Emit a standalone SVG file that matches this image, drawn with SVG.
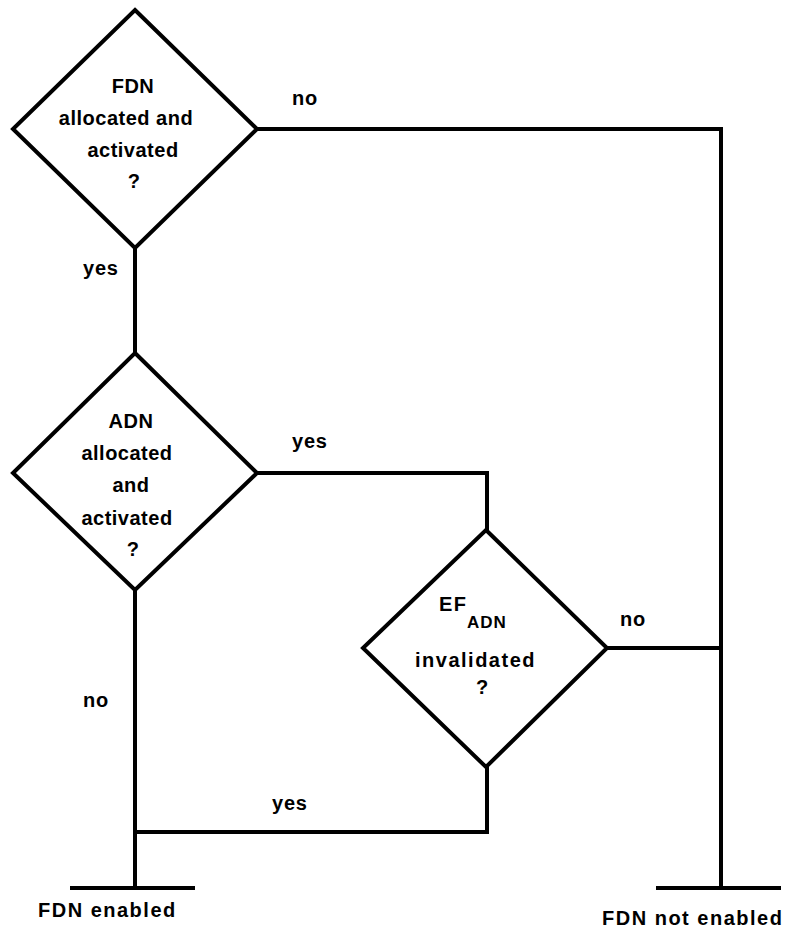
<svg xmlns="http://www.w3.org/2000/svg" width="789" height="933" viewBox="0 0 789 933">
<style>
.shape{fill:#fff;stroke:#000;stroke-width:4;stroke-linejoin:miter}
.ln{fill:none;stroke:#000;stroke-width:4;stroke-linecap:square;stroke-linejoin:miter}
text{font-family:"Liberation Sans",Arial,sans-serif;font-weight:bold;font-size:20px;fill:#000}
.c{text-anchor:middle}
.t1{letter-spacing:0.5px}
.t2{letter-spacing:0.8px}
.t3{letter-spacing:1.5px}
.sub{font-size:17px;letter-spacing:1px}
</style>
<rect width="789" height="933" fill="#fff"/>
<g id="connectors">
<polyline class="ln" points="257,129 721,129 721,886"/>
<line class="ln" x1="135" y1="248" x2="135" y2="353"/>
<polyline class="ln" points="257,473 487,473 487,530"/>
<line class="ln" x1="607" y1="648" x2="721" y2="648"/>
<line class="ln" x1="135" y1="590" x2="135" y2="886"/>
<polyline class="ln" points="487,767 487,832 135,832"/>
<text class="t2" x="292" y="105">no</text>
<text class="t2" x="83" y="275">yes</text>
<text class="t2" x="292" y="448">yes</text>
<text class="t2" x="620" y="626">no</text>
<text class="t2" x="83" y="707">no</text>
<text class="t2" x="272" y="810">yes</text>
</g>
<g id="d1">
<polygon class="shape" points="135,10 257,129 135,248 13,129"/>
<text class="c t1" x="133" y="93">FDN</text>
<text class="c t1" x="126" y="125">allocated and</text>
<text class="c t1" x="133" y="157">activated</text>
<text class="c t1" x="134" y="188">?</text>
</g>
<g id="d2">
<polygon class="shape" points="135,353 257,473 135,590 13,473"/>
<text class="c t1" x="131" y="428">ADN</text>
<text class="c t1" x="127" y="460">allocated</text>
<text class="c t1" x="131" y="492">and</text>
<text class="c t1" x="127" y="525">activated</text>
<text class="c t1" x="133" y="556">?</text>
</g>
<g id="d3">
<polygon class="shape" points="486,530 607,648 486,767 363,648"/>
<text class="t3" x="439" y="611">EF</text>
<text class="sub" x="467" y="628">ADN</text>
<text class="t3" x="415" y="667">invalidated</text>
<text class="c" x="482" y="694">?</text>
</g>
<g id="end-enabled">
<line class="ln" x1="72" y1="888" x2="193" y2="888"/>
<text class="t3" x="38" y="917">FDN enabled</text>
</g>
<g id="end-not-enabled">
<line class="ln" x1="658" y1="888" x2="779" y2="888"/>
<text class="t3" x="602" y="925">FDN not enabled</text>
</g>
</svg>
